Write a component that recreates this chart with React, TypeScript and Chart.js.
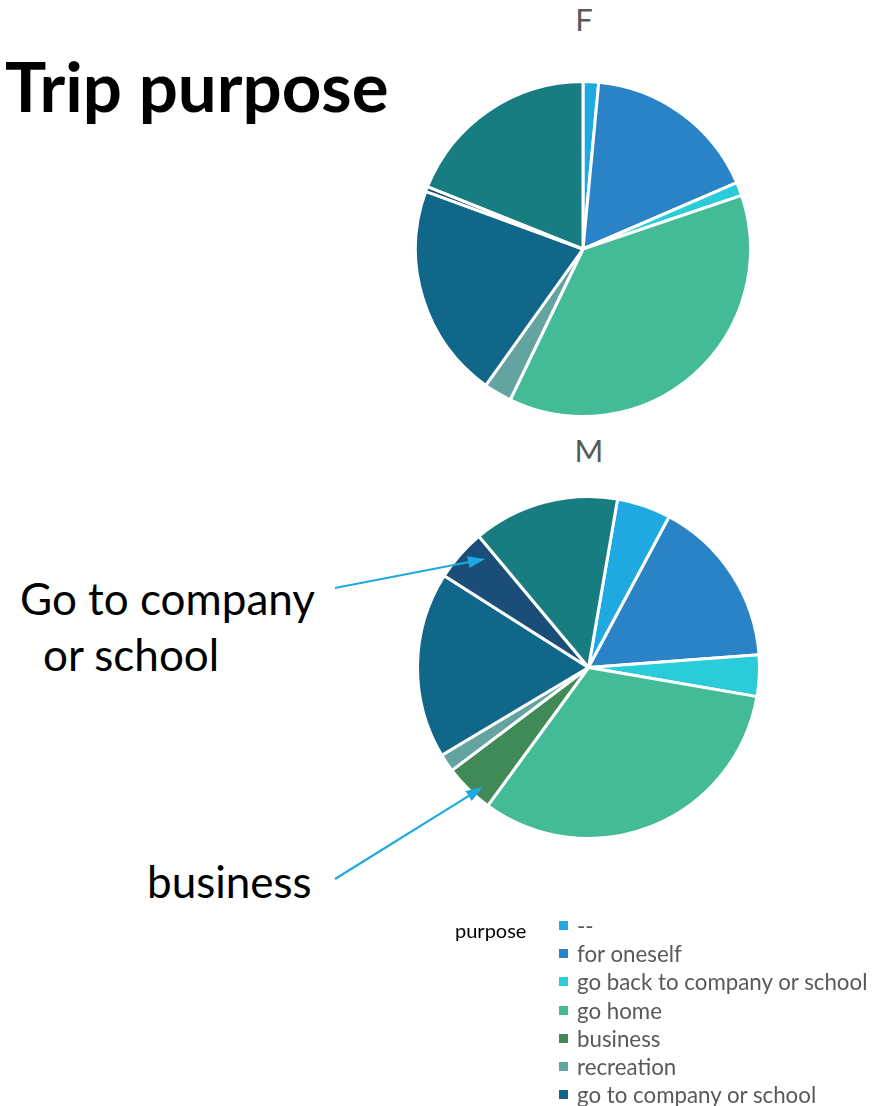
import React, { useEffect, useRef } from "react";
import { Chart, registerables } from "chart.js";

Chart.register(...registerables);

const CATEGORIES = [
  "--",
  "for oneself",
  "go back to company or school",
  "go home",
  "business",
  "recreation",
  "go to company or school",
  "go to company or school (2)",
  "other",
];
const COLORS = [
  "#1fa9e1",
  "#2a83c6",
  "#29ccd8",
  "#44bb97",
  "#3f8a56",
  "#63a4a0",
  "#10678a",
  "#1a4e78",
  "#187d80",
];
const F_VALUES = [1.5, 17.0, 1.3, 37.3, 0.0, 2.7, 20.7, 0.5, 18.9];
const M_VALUES = [5.1, 16.0, 3.9, 32.3, 4.7, 1.7, 17.6, 4.9, 13.8];
const LEGEND_SHOWN = 7;

const FONT = "Lato, 'Open Sans', sans-serif";

function PieChart(props: {
  values: number[];
  rotation: number;
  size: number;
  left: number;
  top: number;
}) {
  const ref = useRef<HTMLCanvasElement | null>(null);
  useEffect(() => {
    if (!ref.current) return;
    const chart = new Chart(ref.current, {
      type: "pie",
      data: {
        labels: CATEGORIES,
        datasets: [
          {
            data: props.values,
            backgroundColor: COLORS,
            borderColor: "#ffffff",
            borderWidth: 3,
          },
        ],
      },
      options: {
        animation: false,
        responsive: false,
        rotation: props.rotation,
        layout: { padding: 2 },
        plugins: {
          legend: { display: false },
          tooltip: { enabled: false },
          title: { display: false },
        },
      },
    });
    return () => chart.destroy();
  }, []);
  return (
    <canvas
      ref={ref}
      width={props.size}
      height={props.size}
      style={{
        position: "absolute",
        left: props.left,
        top: props.top,
        width: props.size,
        height: props.size,
      }}
    />
  );
}

function arrowHead(x1: number, y1: number, x2: number, y2: number) {
  const a = Math.atan2(y2 - y1, x2 - x1);
  const len = 17;
  const w = 6;
  const bx = x2 - len * Math.cos(a);
  const by = y2 - len * Math.sin(a);
  const px = -Math.sin(a) * w;
  const py = Math.cos(a) * w;
  return `${x2},${y2} ${bx + px},${by + py} ${bx - px},${by - py}`;
}

const ARROWS = [
  { x1: 335, y1: 588, x2: 485, y2: 559 },
  { x1: 335, y1: 879, x2: 483, y2: 787 },
];

export default function App() {
  return (
    <div
      style={{
        position: "absolute",
        left: 0,
        top: 0,
        width: 873,
        height: 1106,
        background: "#fff",
        fontFamily: FONT,
        overflow: "hidden",
      }}
    >
      <div
        style={{
          position: "absolute",
          left: 5,
          top: 46,
          fontSize: 69,
          fontWeight: 700,
          color: "#000",
          lineHeight: "80px",
          whiteSpace: "nowrap",
        }}
      >
        Trip purpose
      </div>

      <div
        style={{
          position: "absolute",
          left: 534,
          width: 100,
          top: 0,
          textAlign: "center",
          fontSize: 31,
          color: "#595959",
          lineHeight: "38px",
        }}
      >
        F
      </div>
      <div
        style={{
          position: "absolute",
          left: 539,
          width: 100,
          top: 431,
          textAlign: "center",
          fontSize: 31,
          color: "#595959",
          lineHeight: "38px",
        }}
      >
        M
      </div>

      <PieChart values={F_VALUES} rotation={0} size={342} left={412} top={78} />
      <PieChart values={M_VALUES} rotation={9.8} size={349} left={414} top={493} />

      <div
        style={{
          position: "absolute",
          left: 20,
          top: 570,
          fontSize: 44,
          color: "#000",
          lineHeight: "56px",
          whiteSpace: "nowrap",
        }}
      >
        Go to company
        <br />
        <span style={{ paddingLeft: 23 }}>or school</span>
      </div>
      <div
        style={{
          position: "absolute",
          left: 147,
          top: 853,
          fontSize: 44,
          color: "#000",
          lineHeight: "56px",
          whiteSpace: "nowrap",
        }}
      >
        business
      </div>

      <svg
        width={873}
        height={1106}
        style={{ position: "absolute", left: 0, top: 0, pointerEvents: "none" }}
      >
        {ARROWS.map((a, i) => (
          <g key={i}>
            <line
              x1={a.x1}
              y1={a.y1}
              x2={a.x2 - 12 * Math.cos(Math.atan2(a.y2 - a.y1, a.x2 - a.x1))}
              y2={a.y2 - 12 * Math.sin(Math.atan2(a.y2 - a.y1, a.x2 - a.x1))}
              stroke="#1fa9e1"
              strokeWidth={2.2}
            />
            <polygon points={arrowHead(a.x1, a.y1, a.x2, a.y2)} fill="#1fa9e1" />
          </g>
        ))}
      </svg>

      <div
        style={{
          position: "absolute",
          left: 455,
          top: 918,
          fontSize: 20,
          color: "#000",
          lineHeight: "24px",
        }}
      >
        purpose
      </div>
      <div style={{ position: "absolute", left: 559, top: 911 }}>
        {CATEGORIES.slice(0, LEGEND_SHOWN).map((c, i) => (
          <div
            key={c}
            style={{
              display: "flex",
              alignItems: "center",
              height: 28.3,
              fontSize: 22.3,
              color: "#595959",
              whiteSpace: "nowrap",
            }}
          >
            <span
              style={{
                display: "inline-block",
                width: 9,
                height: 9,
                background: COLORS[i],
                marginRight: 9,
              }}
            />
            <span>{c}</span>
          </div>
        ))}
      </div>
    </div>
  );
}
